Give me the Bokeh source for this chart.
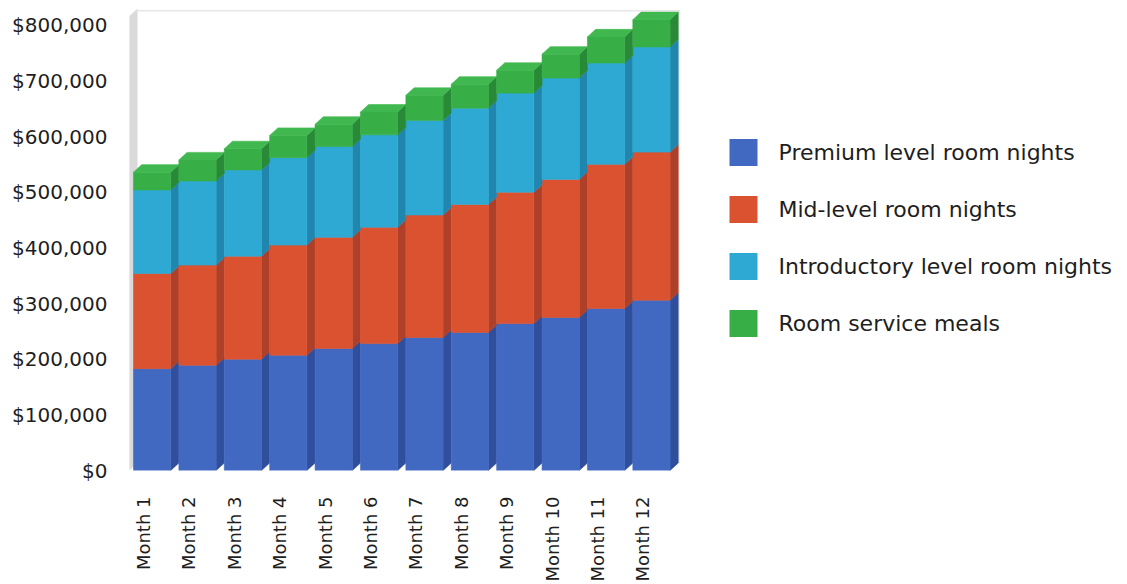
import math
from bokeh.plotting import figure
from bokeh.layouts import row
from bokeh.models import Range1d, FixedTicker, NumeralTickFormatter
from bokeh.core.properties import value
from bokeh.embed import file_html
from bokeh.resources import INLINE

# Monthly revenue by source (USD)
months = ["Month 1", "Month 2", "Month 3", "Month 4", "Month 5", "Month 6",
          "Month 7", "Month 8", "Month 9", "Month 10", "Month 11", "Month 12"]
premium = [183000, 189000, 200000, 207000, 219000, 228000,
           239000, 248000, 264000, 275000, 291000, 306000]
mid_level = [171000, 180000, 185000, 198000, 200000, 209000,
             220000, 230000, 236000, 248000, 259000, 266000]
introductory = [150000, 151000, 155000, 157000, 163000, 166000,
                170000, 173000, 178000, 182000, 182000, 189000]
meals = [32000, 38000, 38000, 40000, 40000, 41000,
         45000, 43000, 41000, 43000, 47000, 49000]
series_names = ["Premium level room nights", "Mid-level room nights",
                "Introductory level room nights", "Room service meals"]
y_ticks = [0, 100000, 200000, 300000, 400000, 500000, 600000, 700000, 800000]

front_colors = ["#4269C2", "#DA5230", "#2EA9D4", "#37AE46"]
side_colors = ["#2F4E9C", "#AE3F28", "#2186AE", "#288A37"]
top_color = "#40B84F"

FONT = "DejaVu Sans"
TEXT = "#1E1E1E"

# pseudo-3D geometry (data units)
half_w = 0.41      # half width of the front face
dx = 0.18          # depth shift to the right
dy = 13500         # depth shift upwards
shift = 0.19       # bar front centre relative to the category tick

p = figure(width=700, height=584,
           x_range=Range1d(-0.33, 11.83), y_range=Range1d(0, 830000),
           output_backend="svg", toolbar_location=None,
           min_border_left=128, min_border_right=20,
           min_border_top=8, min_border_bottom=114)
p.outline_line_color = None
p.grid.visible = False
p.background_fill_color = "white"

# left wall and faint back frame
wx = -0.31
p.patch([wx, wx + dx, wx + dx, wx], [0, dy, 830000, 830000 - dy],
        fill_color="#DADADA", line_color=None)
p.line([wx + dx, 11.83], [826000, 826000], line_color="#E6E6E6", line_width=1.5)
p.line([11.80, 11.80], [dy, 826000], line_color="#EBEBEB", line_width=1.5)

centers = [i + shift for i in range(len(months))]
stacks = [premium, mid_level, introductory, meals]
bottoms = [0] * len(months)
for k, vals in enumerate(stacks):
    tops = [b + v for b, v in zip(bottoms, vals)]
    # right-hand side faces
    p.patches(xs=[[c + half_w, c + half_w + dx, c + half_w + dx, c + half_w] for c in centers],
              ys=[[b, b + dy, t + dy, t] for b, t in zip(bottoms, tops)],
              fill_color=side_colors[k], line_color=side_colors[k], line_width=0.6)
    # front faces
    p.quad(left=[c - half_w for c in centers], right=[c + half_w for c in centers],
           bottom=bottoms, top=tops,
           fill_color=front_colors[k], line_color=front_colors[k], line_width=0.6)
    bottoms = tops

# top faces of the stacks
p.patches(xs=[[c - half_w, c + half_w, c + half_w + dx, c - half_w + dx] for c in centers],
          ys=[[t, t, t + dy, t + dy] for t in bottoms],
          fill_color=top_color, line_color=top_color, line_width=0.6)

# axes
p.xaxis.ticker = FixedTicker(ticks=list(range(len(months))))
p.xaxis.major_label_overrides = {i: m for i, m in enumerate(months)}
p.xaxis.major_label_orientation = math.pi / 2
p.xaxis.major_label_standoff = 20
p.xaxis.axis_line_color = None
p.xaxis.major_tick_line_color = None
p.xaxis.minor_tick_line_color = None
p.xaxis.major_label_text_font = FONT
p.xaxis.major_label_text_font_size = "18px"
p.xaxis.major_label_text_color = TEXT

p.yaxis.ticker = FixedTicker(ticks=y_ticks)
p.yaxis.formatter = NumeralTickFormatter(format="$0,0")
p.yaxis.major_label_standoff = 15
p.yaxis.axis_line_color = None
p.yaxis.major_tick_line_color = None
p.yaxis.minor_tick_line_color = None
p.yaxis.major_label_text_font = FONT
p.yaxis.major_label_text_font_size = "20px"
p.yaxis.major_label_text_color = TEXT

# legend panel (same vertical frame as the chart, pixel-like coordinates)
leg = figure(width=427, height=584, x_range=Range1d(700, 1127), y_range=Range1d(470, 8),
             output_backend="svg", toolbar_location=None,
             x_axis_location=None, y_axis_location=None,
             min_border_left=0, min_border_right=0,
             min_border_top=8, min_border_bottom=114)
leg.grid.visible = False
leg.outline_line_color = None
row_y = [152, 209, 266, 323]
leg.rect(x=[743] * 4, y=row_y, width=28, height=27,
         fill_color=front_colors, line_color=None)
leg.text(x=[778] * 4, y=row_y, text=series_names,
         text_font=value(FONT), text_font_size="22px", text_color=TEXT,
         text_baseline="middle", text_align="left")

layout = row(p, leg)
open("out.html", "w").write(file_html(layout, INLINE))
